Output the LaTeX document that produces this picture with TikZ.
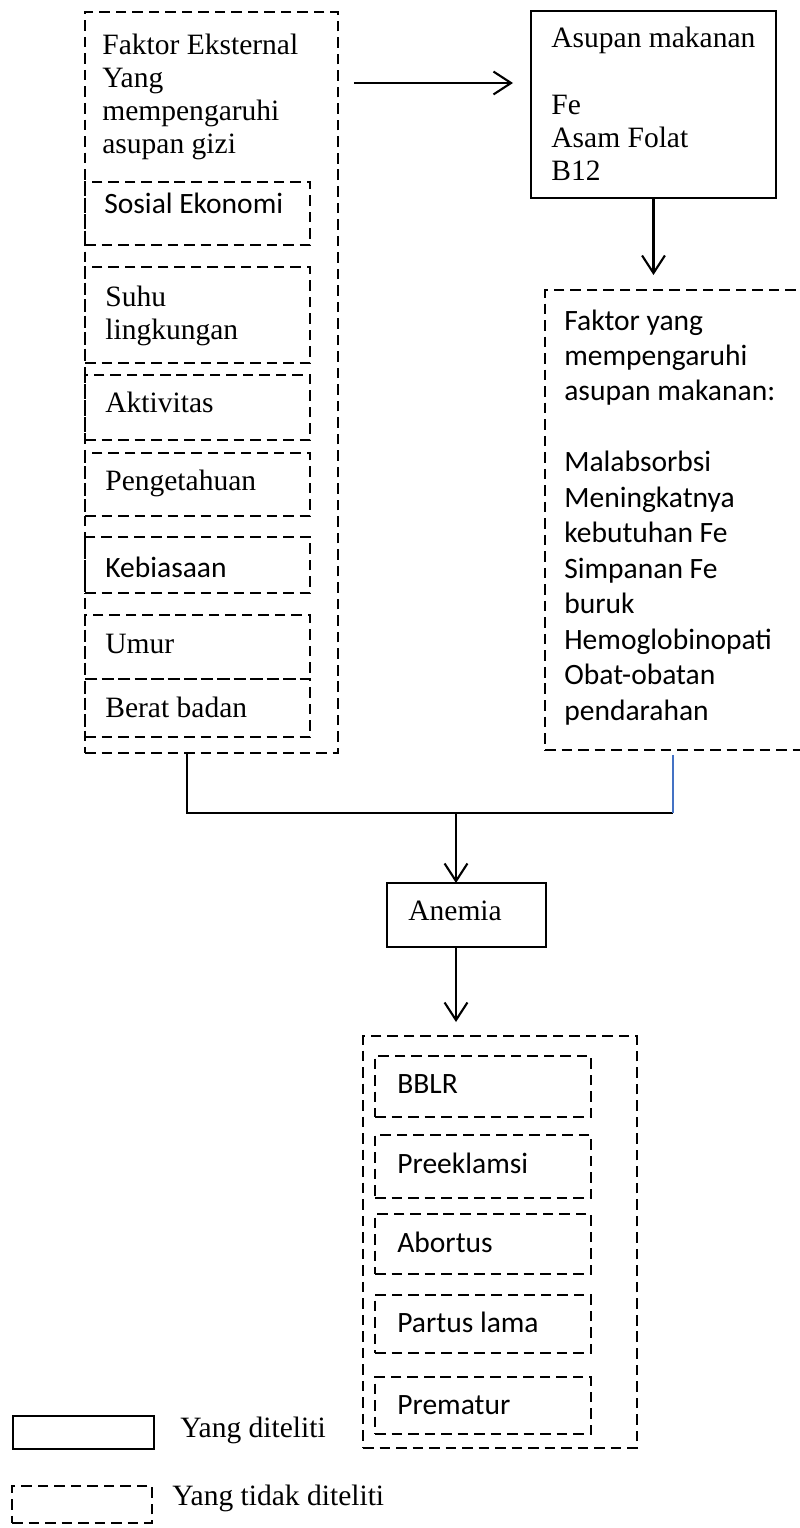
\documentclass[tikz,border=0pt]{standalone}
\usepackage{fontspec}
\setmainfont{Liberation Serif}
\newfontfamily\calibri{Carlito}
\usetikzlibrary{arrows.meta,calc}
\definecolor{garisbiru}{RGB}{68,114,196}
\newcommand{\teks}[1]{\begin{tabular}[t]{@{}l@{}}#1\end{tabular}}
\tikzset{
  kotak/.style={draw, line width=1.1pt, inner sep=0pt, outer sep=0pt, anchor=north west},
  putus/.style={kotak, line width=1.3pt, dash pattern=on 6pt off 3.4pt},
  serif/.style={inner sep=0pt, anchor=base west, font=\fontsize{16.8}{18.8}\selectfont},
  sans/.style={inner sep=0pt, anchor=base west, font=\calibri\fontsize{16.8}{20.2}\selectfont},
  panah/.style={line width=1.2pt, -{Straight Barb[length=10pt,width=13pt]}}
}
\begin{document}
\begin{tikzpicture}[x=0.02cm, y=-0.02cm]
\useasboundingbox (0,0) rectangle (800,1528);
% faktor eksternal
\node[putus, minimum width=5.06cm, minimum height=14.82cm](ekst) at (85,12){};
\node[serif](ekstT) at (102,54){\teks{Faktor Eksternal\\Yang\\mempengaruhi\\asupan gizi}};
\node[putus, minimum width=4.5cm, minimum height=1.26cm](sosial) at (85,182){};
\node[sans](sosialT) at (104,213){Sosial Ekonomi};
\node[putus, minimum width=4.5cm, minimum height=1.92cm](suhu) at (85,267){};
\node[serif](suhuT) at (105,306){\teks{Suhu\\lingkungan}};
\node[putus, minimum width=4.5cm, minimum height=1.3cm](aktivitas) at (85,375){};
\node[serif](aktivitasT) at (105,412){Aktivitas};
\node[putus, minimum width=4.5cm, minimum height=1.26cm](tahu) at (85,453){};
\node[serif](tahuT) at (105,490){Pengetahuan};
\node[putus, minimum width=4.5cm, minimum height=1.12cm](biasa) at (85,537){};
\node[sans](biasaT) at (105,577){Kebiasaan};
\node[putus, minimum width=4.5cm, minimum height=1.28cm](umur) at (85,615){};
\node[serif](umurT) at (105,653){Umur};
\node[putus, minimum width=4.5cm, minimum height=1.16cm](berat) at (85,679){};
\node[serif](beratT) at (105,717){Berat badan};
% asupan dan faktornya
\node[kotak, minimum width=4.9cm, minimum height=3.74cm](asupan) at (531,11){};
\node[serif](asupanT) at (551,48){\teks{Asupan makanan\\ \\Fe\\Asam Folat\\B12}};
\node[putus, minimum width=5.34cm, minimum height=9.2cm](faktor) at (545,290){};
\node[sans](faktorT) at (564,330){\teks{Faktor yang\\mempengaruhi\\asupan makanan:\\ \\Malabsorbsi\\Meningkatnya\\kebutuhan Fe\\Simpanan Fe\\buruk\\Hemoglobinopati\\Obat-obatan\\pendarahan}};
\draw[panah, shorten <=0.32cm, shorten >=0.36cm] ($(ekst.north east)+(0,71)$) -- ($(asupan.north west)+(0,72)$);
\draw[panah, shorten >=0.3cm] (asupan.south) -- (asupan.south |- faktor.north);
% anemia
\coordinate (kiri) at (187,813);
\coordinate (kanan) at (673,813);
\coordinate (tengah) at (456,813);
\draw[line width=1.2pt] (ekst.south -| kiri) -- (kiri) -- (kanan);
\draw[garisbiru, line width=0.7pt, shorten <=0.1cm] (faktor.south -| kanan) -- (kanan);
\node[kotak, minimum width=3.18cm, minimum height=1.28cm](anemia) at (387,883){};
\node[serif](anemiaT) at (408,920){Anemia};
\draw[panah] (tengah) -- (tengah |- anemia.north);
% dampak
\node[putus, minimum width=5.48cm, minimum height=8.24cm](dampak) at (363,1036){};
\draw[panah, shorten >=0.28cm] (tengah |- anemia.south) -- (tengah |- dampak.north);
\node[putus, minimum width=4.32cm, minimum height=1.22cm](bblr) at (375,1056){};
\node[sans](bblrT) at (397,1093){BBLR};
\node[putus, minimum width=4.32cm, minimum height=1.26cm](pre) at (375,1135){};
\node[sans](preT) at (397,1173){Preeklamsi};
\node[putus, minimum width=4.32cm, minimum height=1.2cm](abortus) at (375,1214){};
\node[sans](abortusT) at (397,1252){Abortus};
\node[putus, minimum width=4.32cm, minimum height=1.16cm](partus) at (375,1295){};
\node[sans](partusT) at (397,1332){Partus lama};
\node[putus, minimum width=4.32cm, minimum height=1.14cm](prematur) at (375,1377){};
\node[sans](prematurT) at (397,1414){Prematur};
% keterangan
\node[kotak, minimum width=2.82cm, minimum height=0.66cm](ket1) at (13,1416){};
\node[serif](ket1T) at (180,1437){Yang diteliti};
\node[putus, minimum width=2.8cm, minimum height=0.74cm](ket2) at (12,1486){};
\node[serif](ket2T) at (172,1505){Yang tidak diteliti};
\end{tikzpicture}
\end{document}
